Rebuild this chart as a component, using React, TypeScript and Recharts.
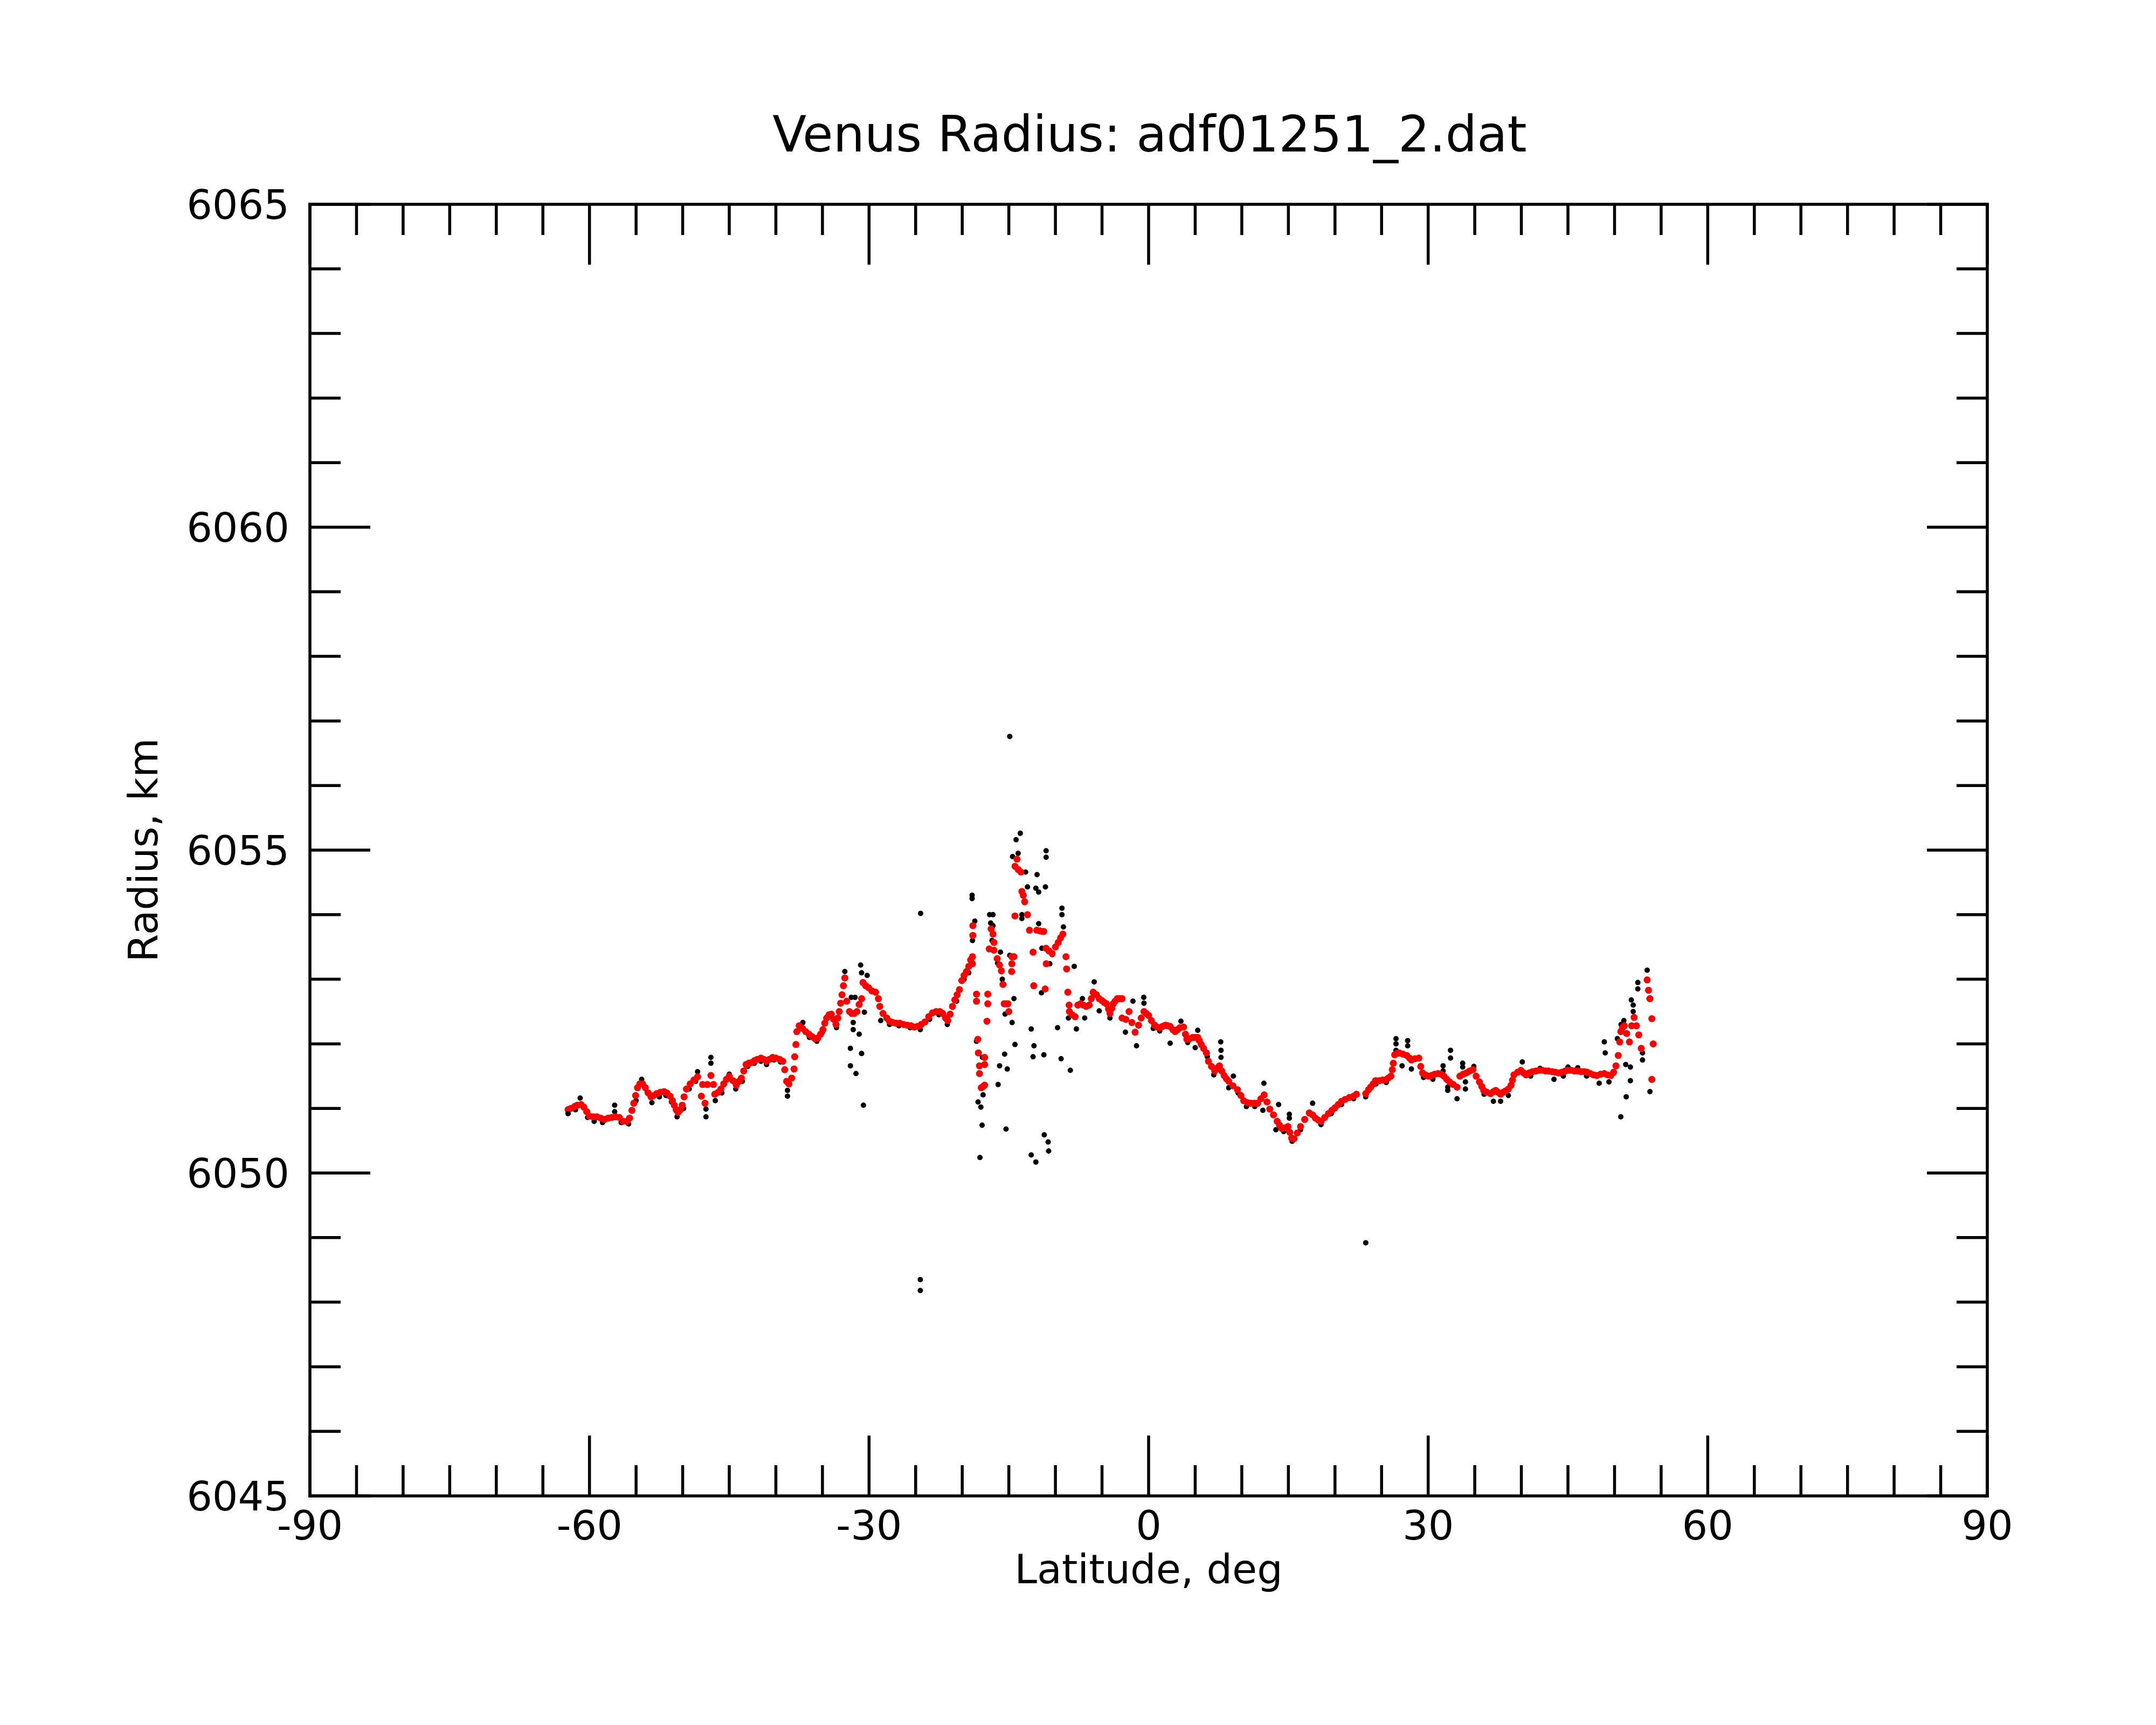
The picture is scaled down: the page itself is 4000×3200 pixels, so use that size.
import React from "react";
import { Scatter, ScatterChart, XAxis, YAxis } from "recharts";

// latitude (deg), radius (km) pairs
const rawTrace: [number, number][] = [
  [-62.3, 6050.92], [-61.5, 6050.98], [-61.0, 6051.16], [-60.2, 6050.86], [-59.5, 6050.8],
  [-58.6, 6050.78], [-57.3, 6051.05], [-57.3, 6050.95], [-56.6, 6050.78], [-55.8, 6050.76],
  [-55.0, 6051.12], [-54.4, 6051.45], [-53.8, 6051.25], [-53.3, 6051.09], [-52.5, 6051.18],
  [-51.8, 6051.2], [-51.2, 6051.1], [-50.6, 6050.87], [-49.9, 6051.0], [-49.3, 6051.3],
  [-48.4, 6051.57], [-48.6, 6051.42], [-47.5, 6050.99], [-47.5, 6050.87], [-46.97, 6051.79],
  [-46.97, 6051.7], [-46.5, 6051.12], [-45.8, 6051.24], [-45.0, 6051.53], [-44.3, 6051.3],
  [-43.6, 6051.42], [-43.0, 6051.65], [-42.3, 6051.7], [-41.6, 6051.73], [-41.0, 6051.68],
  [-40.2, 6051.75], [-39.5, 6051.72], [-38.75, 6051.28], [-38.75, 6051.19], [-37.1, 6052.33],
  [-36.4, 6052.1], [-35.6, 6052.04], [-35.0, 6052.18], [-34.2, 6052.42], [-33.5, 6052.25],
  [-32.6, 6053.12], [-31.9, 6052.72], [-31.5, 6052.72], [-30.9, 6053.22], [-30.8, 6053.1],
  [-30.2, 6053.06], [-31.7, 6052.33], [-31.7, 6052.22], [-31.06, 6052.15], [-32.0, 6051.93],
  [-30.8, 6051.85], [-32.0, 6051.66], [-31.4, 6051.54], [-30.6, 6051.05], [-30.5, 6052.49],
  [-28.75, 6052.36], [-27.8, 6052.3], [-26.8, 6052.28], [-25.6, 6052.25], [-24.5, 6052.22],
  [-23.5, 6052.38], [-22.5, 6052.45], [-21.6, 6052.3], [-20.6, 6052.66], [-19.8, 6053.0],
  [-19.3, 6053.1], [-18.9, 6053.6], [-16.8, 6053.6], [-16.2, 6053.25], [-15.7, 6053.0],
  [-24.47, 6054.02], [-24.5, 6048.35], [-24.5, 6048.18],
  [-18.94, 6054.3], [-18.94, 6054.25], [-18.65, 6053.9], [-17.06, 6054.0], [-16.7, 6054.0],
  [-16.95, 6053.87], [-16.7, 6053.83], [-15.9, 6053.42], [-14.9, 6053.37], [-14.45, 6052.7],
  [-15.4, 6052.46], [-14.65, 6052.33], [-18.47, 6052.04], [-17.83, 6051.79], [-17.76, 6051.21],
  [-18.3, 6051.1], [-18.0, 6051.02], [-17.87, 6050.74], [-18.1, 6050.24], [-15.99, 6051.66],
  [-15.17, 6051.61], [-16.15, 6051.37], [-15.45, 6051.84], [-14.34, 6051.99], [-15.3, 6050.68],
  [-12.6, 6052.23], [-12.3, 6051.97], [-12.4, 6051.8], [-11.24, 6051.83], [-9.77, 6052.25],
  [-9.39, 6051.77], [-8.4, 6051.59], [-11.2, 6050.59], [-10.78, 6050.48], [-10.73, 6050.34],
  [-12.6, 6050.28], [-12.1, 6050.17], [-13.77, 6055.26], [-14.22, 6055.16], [-14.0, 6054.95],
  [-14.6, 6054.9], [-11.0, 6054.99], [-11.0, 6054.89], [-13.2, 6054.66], [-11.97, 6054.62],
  [-13.0, 6054.43], [-12.1, 6054.41], [-11.8, 6054.35], [-11.07, 6054.43], [-13.6, 6054.0],
  [-13.6, 6053.94], [-11.8, 6053.86], [-9.3, 6054.1], [-9.3, 6054.0], [-9.14, 6053.81],
  [-7.98, 6053.2], [-11.45, 6053.48], [-10.35, 6053.38], [-10.6, 6053.24], [-11.5, 6052.79],
  [-14.9, 6056.76], [-8.6, 6052.4],
  [-7.75, 6052.23], [-7.1, 6052.7], [-6.86, 6052.4], [-5.84, 6052.96], [-5.3, 6052.51],
  [-4.15, 6052.4], [-2.49, 6052.18], [-1.68, 6052.66], [-1.3, 6051.97], [-0.52, 6052.72],
  [-0.5, 6052.63], [0.5, 6052.24], [1.2, 6052.2], [2.31, 6052.01], [3.47, 6052.35],
  [4.2, 6052.02], [5.0, 6051.94], [5.27, 6052.21], [6.3, 6051.8], [7.0, 6051.52],
  [7.74, 6052.03], [7.77, 6051.9], [7.77, 6051.79], [8.6, 6051.32], [9.1, 6051.5],
  [9.6, 6051.24], [10.5, 6051.03], [11.4, 6051.03], [12.37, 6051.39], [12.26, 6050.97],
  [13.95, 6051.06], [13.66, 6050.67], [14.5, 6050.64], [15.1, 6050.91], [15.1, 6050.85],
  [15.4, 6050.49],
  [16.3, 6050.67], [17.6, 6051.08], [18.5, 6050.75], [19.6, 6050.92], [20.7, 6051.06],
  [22.0, 6051.15], [23.3, 6051.18], [23.3, 6048.92], [24.4, 6051.38], [25.5, 6051.4],
  [26.55, 6052.08], [26.55, 6052.0], [26.55, 6051.9], [27.8, 6052.05], [27.8, 6051.97],
  [27.2, 6051.66], [28.2, 6051.61], [29.5, 6051.48], [30.5, 6051.45], [31.6, 6051.66],
  [31.6, 6051.58], [32.4, 6051.9], [32.4, 6051.78], [32.1, 6051.33], [32.1, 6051.28],
  [33.1, 6051.15], [33.7, 6051.7], [33.7, 6051.64], [34.0, 6051.41], [34.0, 6051.3],
  [34.9, 6051.65], [36.0, 6051.22], [37.0, 6051.11], [37.77, 6051.11], [38.6, 6051.2],
  [40.1, 6051.72], [41.0, 6051.5], [42.0, 6051.62], [43.5, 6051.45], [44.5, 6051.5],
  [45.0, 6051.64], [46.05, 6051.63], [47.0, 6051.5], [48.35, 6051.39], [48.9, 6052.03],
  [49.0, 6051.86], [49.4, 6051.41], [50.3, 6052.08], [50.7, 6052.3], [51.0, 6052.36],
  [51.8, 6052.68], [52.0, 6052.6], [52.0, 6052.5], [52.5, 6052.95], [52.5, 6052.85],
  [53.5, 6053.14], [53.7, 6052.7], [51.2, 6051.68], [51.7, 6051.64], [51.7, 6051.43],
  [51.25, 6051.18], [50.67, 6050.87], [53.0, 6051.86], [53.0, 6051.75], [53.8, 6051.26],
];

const filteredTrace: [number, number][] = [
  [-62.3, 6050.98], [-62.0, 6051.0], [-61.6, 6051.03], [-61.3, 6051.05], [-60.9, 6051.06],
  [-60.6, 6051.02], [-60.3, 6050.95], [-60.0, 6050.88], [-59.6, 6050.87], [-59.2, 6050.87],
  [-58.8, 6050.85], [-58.4, 6050.83], [-58.0, 6050.85], [-57.6, 6050.86], [-57.2, 6050.87],
  [-56.8, 6050.86], [-56.4, 6050.8], [-56.0, 6050.8], [-55.7, 6050.85], [-55.45, 6050.97],
  [-55.25, 6051.08], [-55.05, 6051.2], [-54.85, 6051.32], [-54.6, 6051.38], [-54.3, 6051.38],
  [-54.0, 6051.32], [-53.7, 6051.24], [-53.4, 6051.18], [-53.1, 6051.2], [-52.8, 6051.23],
  [-52.4, 6051.25], [-52.0, 6051.26], [-51.7, 6051.24], [-51.35, 6051.19], [-51.1, 6051.12],
  [-50.9, 6051.05], [-50.7, 6050.98], [-50.5, 6050.94], [-50.25, 6050.98], [-50.05, 6051.05],
  [-49.85, 6051.18], [-49.6, 6051.3], [-49.2, 6051.38], [-48.8, 6051.44], [-48.4, 6051.49],
  [-47.86, 6051.37], [-48.0, 6051.19], [-47.6, 6051.08], [-47.34, 6051.37], [-46.97, 6051.51],
  [-46.7, 6051.37], [-46.56, 6051.22], [-46.2, 6051.25], [-45.9, 6051.3], [-45.6, 6051.38],
  [-45.3, 6051.45], [-45.0, 6051.5], [-44.6, 6051.43], [-44.25, 6051.36], [-43.95, 6051.42],
  [-43.7, 6051.47], [-43.45, 6051.58], [-43.2, 6051.68], [-42.9, 6051.7], [-42.6, 6051.71],
  [-42.3, 6051.74], [-42.0, 6051.76], [-41.6, 6051.78], [-41.3, 6051.76], [-41.0, 6051.73],
  [-40.7, 6051.76], [-40.35, 6051.79], [-40.0, 6051.78], [-39.6, 6051.76], [-39.25, 6051.73],
  [-39.05, 6051.6], [-38.85, 6051.42], [-38.6, 6051.38], [-38.3, 6051.47], [-38.05, 6051.61],
  [-37.98, 6051.8], [-37.85, 6051.99], [-37.75, 6052.19], [-37.5, 6052.28], [-37.15, 6052.24],
  [-36.8, 6052.19], [-36.45, 6052.15], [-36.1, 6052.11], [-35.8, 6052.08], [-35.5, 6052.09],
  [-35.2, 6052.15], [-34.95, 6052.22], [-34.75, 6052.32], [-34.55, 6052.4], [-34.3, 6052.45],
  [-34.05, 6052.46], [-33.8, 6052.38], [-33.55, 6052.3], [-33.35, 6052.4], [-33.2, 6052.5],
  [-33.05, 6052.63], [-32.9, 6052.76], [-32.75, 6052.9], [-32.6, 6053.02], [-32.4, 6052.66],
  [-32.1, 6052.5], [-31.85, 6052.47], [-31.6, 6052.47], [-31.3, 6052.5], [-31.06, 6052.61],
  [-30.8, 6052.7], [-30.65, 6052.95], [-30.35, 6052.9], [-30.05, 6052.87], [-29.7, 6052.82],
  [-29.3, 6052.8], [-29.0, 6052.7], [-28.85, 6052.58], [-28.5, 6052.47], [-28.1, 6052.4],
  [-27.8, 6052.35], [-27.45, 6052.33], [-27.1, 6052.32], [-26.7, 6052.32], [-26.3, 6052.3],
  [-25.9, 6052.29], [-25.5, 6052.28], [-25.15, 6052.26], [-24.8, 6052.27], [-24.4, 6052.3],
  [-24.0, 6052.34], [-23.6, 6052.42], [-23.2, 6052.48], [-22.8, 6052.5], [-22.4, 6052.5],
  [-22.1, 6052.47], [-21.8, 6052.4], [-21.55, 6052.36], [-21.3, 6052.46], [-21.05, 6052.58],
  [-20.8, 6052.68], [-20.55, 6052.76], [-20.3, 6052.84], [-20.05, 6052.98], [-19.8, 6053.06],
  [-19.55, 6053.12], [-19.3, 6053.2], [-19.1, 6053.3], [-18.9, 6053.35], [-18.9, 6053.24],
  [-18.86, 6053.83], [-18.86, 6053.68], [-18.47, 6052.77], [-18.47, 6052.66], [-17.26, 6052.77],
  [-17.26, 6052.62], [-17.35, 6052.35], [-18.33, 6052.07], [-18.27, 6051.86], [-18.15, 6051.66],
  [-18.15, 6051.54], [-17.96, 6051.32], [-17.75, 6051.34], [-17.6, 6051.36], [-17.6, 6051.79],
  [-17.6, 6051.68], [-16.9, 6053.78], [-16.7, 6053.7], [-16.6, 6053.57], [-16.6, 6053.45],
  [-17.1, 6053.47], [-16.25, 6053.32], [-16.0, 6053.22], [-15.8, 6053.13], [-15.63, 6052.92],
  [-15.5, 6052.62], [-15.3, 6052.62], [-15.1, 6052.62], [-15.0, 6052.5], [-14.68, 6053.35],
  [-14.68, 6053.24], [-14.7, 6053.12], [-14.45, 6053.35], [-14.34, 6053.98], [-14.13, 6054.86],
  [-14.34, 6054.75], [-14.0, 6054.7], [-13.7, 6054.66], [-13.6, 6054.36], [-13.45, 6054.3],
  [-13.3, 6054.2], [-13.0, 6054.0], [-12.78, 6053.76], [-12.4, 6053.42], [-12.0, 6053.76],
  [-11.7, 6053.75], [-11.4, 6053.74], [-11.25, 6053.74], [-12.33, 6052.9], [-11.1, 6052.85],
  [-10.99, 6053.24], [-11.0, 6053.48], [-10.7, 6053.44], [-10.35, 6053.4], [-10.0, 6053.5],
  [-9.7, 6053.57], [-9.45, 6053.64], [-9.2, 6053.7], [-8.87, 6053.35], [-8.8, 6053.16],
  [-8.67, 6052.8], [-8.53, 6052.6], [-8.5, 6052.5], [-8.2, 6052.45], [-7.89, 6052.42],
  [-7.6, 6052.6], [-7.3, 6052.62], [-7.0, 6052.6], [-6.7, 6052.58], [-6.37, 6052.6],
  [-6.15, 6052.7], [-5.95, 6052.8], [-5.6, 6052.76], [-5.3, 6052.7], [-5.0, 6052.67],
  [-4.75, 6052.64], [-4.53, 6052.62], [-4.3, 6052.54], [-4.15, 6052.47], [-3.95, 6052.55],
  [-3.8, 6052.62], [-3.6, 6052.66], [-3.36, 6052.7], [-3.1, 6052.7], [-2.85, 6052.7],
  [-2.85, 6052.4], [-2.45, 6052.38], [-2.1, 6052.5], [-1.8, 6052.33], [-1.45, 6052.18],
  [-1.08, 6052.29], [-0.8, 6052.4], [-0.5, 6052.5], [-0.25, 6052.47], [0.0, 6052.44],
  [0.3, 6052.36], [0.64, 6052.29], [0.9, 6052.26], [1.16, 6052.25], [1.5, 6052.27],
  [1.8, 6052.29], [2.05, 6052.28], [2.31, 6052.27], [2.6, 6052.22], [2.85, 6052.19],
  [3.1, 6052.22], [3.36, 6052.25], [3.75, 6052.26], [3.95, 6052.15], [4.1, 6052.07],
  [4.4, 6052.08], [4.74, 6052.1], [5.0, 6052.1], [5.27, 6052.1], [5.45, 6052.05],
  [5.65, 6051.99], [5.9, 6051.93], [6.2, 6051.86], [6.42, 6051.73], [6.75, 6051.65],
  [7.09, 6051.58], [7.35, 6051.62], [7.6, 6051.66], [7.85, 6051.58], [8.1, 6051.51],
  [8.35, 6051.46], [8.6, 6051.42], [9.05, 6051.35], [9.54, 6051.29], [9.9, 6051.2],
  [10.2, 6051.12], [10.6, 6051.09], [10.96, 6051.08], [11.35, 6051.08], [11.7, 6051.08],
  [12.05, 6051.15], [12.4, 6051.21], [12.7, 6051.1], [13.0, 6050.99], [13.4, 6050.9],
  [13.8, 6050.8], [14.05, 6050.74], [14.3, 6050.69], [14.6, 6050.7], [14.96, 6050.72],
  [15.15, 6050.63], [15.35, 6050.54], [15.6, 6050.53], [15.95, 6050.62], [16.3, 6050.72],
  [16.75, 6050.83], [17.24, 6050.93], [17.6, 6050.9], [17.9, 6050.85], [18.2, 6050.82],
  [18.5, 6050.8], [18.9, 6050.86], [19.3, 6050.92], [19.66, 6050.97], [20.0, 6051.01],
  [20.35, 6051.06], [20.7, 6051.11], [21.1, 6051.14], [21.55, 6051.17], [22.0, 6051.19],
  [22.3, 6051.22], [23.3, 6051.23], [23.6, 6051.29], [23.83, 6051.33], [24.1, 6051.38],
  [24.35, 6051.43], [24.75, 6051.43], [25.1, 6051.44], [25.4, 6051.44], [25.7, 6051.47],
  [26.0, 6051.5], [26.15, 6051.6], [26.26, 6051.7], [26.4, 6051.83], [26.65, 6051.85],
  [26.9, 6051.86], [27.3, 6051.84], [27.7, 6051.82], [28.0, 6051.78], [28.2, 6051.75],
  [28.6, 6051.77], [29.0, 6051.78], [29.2, 6051.65], [29.4, 6051.55], [29.7, 6051.52],
  [30.0, 6051.5], [30.35, 6051.51], [30.7, 6051.53], [31.06, 6051.54], [31.4, 6051.53],
  [31.7, 6051.5], [32.0, 6051.45], [32.3, 6051.41], [32.7, 6051.37], [33.1, 6051.33],
  [33.4, 6051.5], [33.75, 6051.53], [34.1, 6051.55], [34.45, 6051.58], [34.8, 6051.6],
  [35.15, 6051.5], [35.5, 6051.41], [35.75, 6051.34], [35.96, 6051.28], [36.3, 6051.25],
  [36.7, 6051.23], [37.0, 6051.26], [37.25, 6051.28], [37.5, 6051.25], [37.77, 6051.22],
  [38.05, 6051.25], [38.3, 6051.27], [38.6, 6051.3], [38.9, 6051.36], [39.05, 6051.44],
  [39.2, 6051.52], [39.6, 6051.56], [39.95, 6051.59], [40.25, 6051.55], [40.5, 6051.52],
  [40.85, 6051.55], [41.2, 6051.57], [41.55, 6051.58], [41.9, 6051.59], [42.25, 6051.59],
  [42.6, 6051.58], [42.9, 6051.58], [43.3, 6051.57], [43.65, 6051.56], [44.0, 6051.55],
  [44.35, 6051.56], [44.7, 6051.58], [45.0, 6051.59], [45.35, 6051.59], [45.7, 6051.58],
  [46.05, 6051.58], [46.4, 6051.57], [46.75, 6051.57], [47.06, 6051.56], [47.4, 6051.54],
  [47.75, 6051.52], [48.1, 6051.51], [48.5, 6051.53], [48.9, 6051.54], [49.25, 6051.52],
  [49.6, 6051.51], [49.9, 6051.56], [50.15, 6051.66], [50.4, 6051.82], [50.55, 6052.03],
  [50.67, 6052.19], [50.85, 6052.25], [51.05, 6052.28], [51.3, 6052.16], [51.6, 6052.03],
  [51.83, 6052.28], [52.1, 6052.41], [52.35, 6052.28], [52.6, 6052.14], [52.86, 6051.93],
  [53.5, 6052.99], [53.64, 6052.83], [53.8, 6052.7], [54.0, 6052.39], [54.15, 6052.0],
  [54.0, 6051.45],
];

const xTicks = [
  -90, -85, -80, -75, -70, -65, -60, -55, -50, -45, -40, -35, -30, -25, -20, -15, -10, -5, 0,
  5, 10, 15, 20, 25, 30, 35, 40, 45, 50, 55, 60, 65, 70, 75, 80, 85, 90,
];
const xLabels = [-90, -60, -30, 0, 30, 60, 90];
const yTicks = [
  6045, 6046, 6047, 6048, 6049, 6050, 6051, 6052, 6053, 6054, 6055,
  6056, 6057, 6058, 6059, 6060, 6061, 6062, 6063, 6064, 6065,
];
const yLabels = [6045, 6050, 6055, 6060, 6065];

const rawData = rawTrace.map(([lat, r]) => ({ lat, r }));
const filteredData = filteredTrace.map(([lat, r]) => ({ lat, r }));

const FONT = "DejaVu Sans";
const LINE = 5.5;
const LABEL = 75;

function FrameTick(props: any) {
  const { x, y, payload, side } = props;
  const v = payload.value;
  const horizontal = side === "bottom" || side === "top";
  const major = horizontal ? xLabels.includes(v) : yLabels.includes(v);
  const len = major ? 112 : 57;
  let line;
  if (side === "bottom") line = <line x1={x} y1={y} x2={x} y2={y - len} />;
  else if (side === "top") line = <line x1={x} y1={y} x2={x} y2={y + len} />;
  else if (side === "left") line = <line x1={x} y1={y} x2={x + len} y2={y} />;
  else line = <line x1={x} y1={y} x2={x - len} y2={y} />;
  return (
    <g>
      <g stroke="#000" strokeWidth={LINE}>{line}</g>
      {major && side === "bottom" && (
        <text x={x} y={y + 81} textAnchor="middle" fontFamily={FONT} fontSize={LABEL} fill="#000">
          {v}
        </text>
      )}
      {major && side === "left" && (
        <text x={x - 38} y={y + 27} textAnchor="end" fontFamily={FONT} fontSize={LABEL} fill="#000">
          {v}
        </text>
      )}
    </g>
  );
}

const blackDot = (p: any) => <circle cx={p.cx} cy={p.cy} r={5} fill="#000" />;
const redDot = (p: any) => <circle cx={p.cx} cy={p.cy} r={6.5} fill="#ff0000" />;

export default function App() {
  const axisLine = { stroke: "#000", strokeWidth: LINE, strokeLinecap: "square" as const };
  return (
    <div style={{ position: "absolute", left: 0, top: 0, width: 4000, height: 3200, background: "#fff" }}>
      <ScatterChart width={4000} height={3200} margin={{ top: 378, right: 312, bottom: 424, left: 574 }}>
        <XAxis xAxisId="b" type="number" dataKey="lat" domain={[-90, 90]} ticks={xTicks} interval={0}
          orientation="bottom" height={1} tickSize={0} tickMargin={0} allowDataOverflow
          axisLine={axisLine} tickLine={false} tick={<FrameTick side="bottom" />} />
        <XAxis xAxisId="t" type="number" dataKey="lat" domain={[-90, 90]} ticks={xTicks} interval={0}
          orientation="top" height={1} tickSize={0} tickMargin={0} allowDataOverflow
          axisLine={axisLine} tickLine={false} tick={<FrameTick side="top" />} />
        <YAxis yAxisId="l" type="number" dataKey="r" domain={[6045, 6065]} ticks={yTicks} interval={0}
          orientation="left" width={1} tickSize={0} tickMargin={0} allowDataOverflow
          axisLine={axisLine} tickLine={false} tick={<FrameTick side="left" />} />
        <YAxis yAxisId="rt" type="number" dataKey="r" domain={[6045, 6065]} ticks={yTicks} interval={0}
          orientation="right" width={1} tickSize={0} tickMargin={0} allowDataOverflow
          axisLine={axisLine} tickLine={false} tick={<FrameTick side="right" />} />
        <Scatter data={rawData} xAxisId="b" yAxisId="l" shape={blackDot} isAnimationActive={false} />
        <Scatter data={filteredData} xAxisId="b" yAxisId="l" shape={redDot} isAnimationActive={false} />
        <Scatter data={rawData.slice(0, 1)} xAxisId="t" yAxisId="rt" shape={blackDot} isAnimationActive={false} />
      </ScatterChart>
      <svg width={4000} height={3200} style={{ position: "absolute", left: 0, top: 0, pointerEvents: "none" }}>
        <text x={2133} y={281} textAnchor="middle" fontFamily={FONT} fontSize={92} fill="#000">
          Venus Radius: adf01251_2.dat
        </text>
        <text x={2131} y={2937} textAnchor="middle" fontFamily={FONT} fontSize={LABEL} fill="#000">
          Latitude, deg
        </text>
        <text x={292} y={1577} textAnchor="middle" fontFamily={FONT} fontSize={LABEL} fill="#000"
          transform="rotate(-90 292 1577)">
          Radius, km
        </text>
      </svg>
    </div>
  );
}
